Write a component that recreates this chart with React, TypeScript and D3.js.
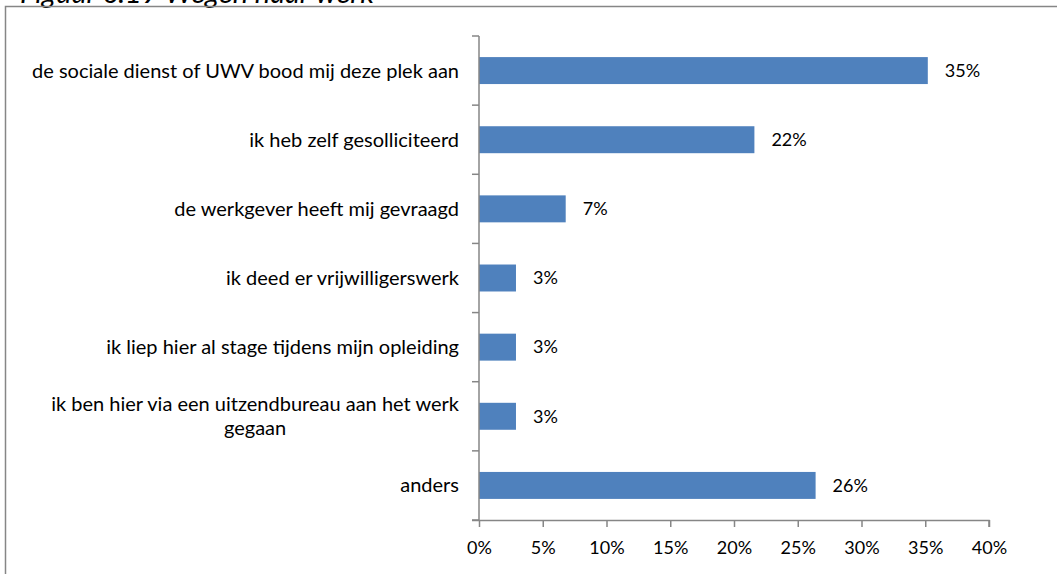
import { useEffect, useRef } from 'react';
import * as d3 from 'd3';

// Figuur 6.19 Wegen naar werk
const categories = [
    'de sociale dienst of UWV bood mij deze plek aan',
    'ik heb zelf gesolliciteerd',
    'de werkgever heeft mij gevraagd',
    'ik deed er vrijwilligerswerk',
    'ik liep hier al stage tijdens mijn opleiding',
    'ik ben hier via een uitzendbureau aan het werk|gegaan',
    'anders',
];
const values = [35.2, 21.6, 6.8, 2.9, 2.9, 2.9, 26.4];
const valueLabels = ['35%', '22%', '7%', '3%', '3%', '3%', '26%'];
const xTicks = [0, 5, 10, 15, 20, 25, 30, 35, 40];
const title = 'Figuur 6.19  Wegen naar werk';

const WIDTH = 1057;
const HEIGHT = 574;
const FONT = 'Lato, "Open Sans", sans-serif';
const AXIS = '#868686';
const BAR = '#4F81BD';

export default function App() {
    const svgRef = useRef<SVGSVGElement>(null);

    useEffect(() => {
        if (!svgRef.current) return;
        const svg = d3.select(svgRef.current);
        svg.selectAll('*').remove();

        const plot = { left: 479, right: 989, top: 36, bottom: 520 };

        const x = d3.scaleLinear().domain([0, 40]).range([plot.left, plot.right]);
        const y = d3.scaleBand<string>().domain(categories).range([plot.top, plot.bottom]).padding(0);
        const barH = y.bandwidth() * 0.39;

        // title (cut off at the top like the source)
        svg.append('text')
            .attr('x', 20)
            .attr('y', 3)
            .attr('font-family', FONT)
            .attr('font-style', 'italic')
            .attr('font-size', 29)
            .attr('fill', '#000')
            .text(title);

        // outer frame
        svg.append('rect')
            .attr('x', 5.5)
            .attr('y', 6.5)
            .attr('width', 1200)
            .attr('height', 800)
            .attr('fill', 'none')
            .attr('stroke', AXIS)
            .attr('stroke-width', 1.5);

        // bars
        svg.selectAll('.bar')
            .data(categories)
            .enter()
            .append('rect')
            .attr('class', 'bar')
            .attr('x', x(0))
            .attr('y', (d) => (y(d) as number) + (y.bandwidth() - barH) / 2)
            .attr('width', (d, i) => x(values[i]) - x(0))
            .attr('height', barH)
            .attr('fill', BAR);

        // value labels
        svg.selectAll('.val')
            .data(categories)
            .enter()
            .append('text')
            .attr('class', 'val')
            .attr('x', (d, i) => x(values[i]) + 17)
            .attr('y', (d) => (y(d) as number) + y.bandwidth() / 2)
            .attr('dy', '0.35em')
            .attr('font-family', FONT)
            .attr('font-size', 18)
            .attr('fill', '#000')
            .text((d, i) => valueLabels[i]);

        // y axis line + category ticks
        svg.append('line')
            .attr('x1', plot.left)
            .attr('x2', plot.left)
            .attr('y1', plot.top)
            .attr('y2', plot.bottom)
            .attr('stroke', AXIS)
            .attr('stroke-width', 1.5);
        const bounds = categories.map((c) => y(c) as number).concat([plot.bottom]);
        bounds.forEach((b) => {
            svg.append('line')
                .attr('x1', plot.left - 7)
                .attr('x2', plot.left)
                .attr('y1', b)
                .attr('y2', b)
                .attr('stroke', AXIS)
                .attr('stroke-width', 1.5);
        });

        // category labels
        categories.forEach((c) => {
            const lines = c.split('|');
            const cy = (y(c) as number) + y.bandwidth() / 2;
            const lh = 24;
            const t0 = cy - ((lines.length - 1) * lh) / 2;
            const first = svg.append('text')
                .attr('x', 459)
                .attr('y', t0)
                .attr('dy', '0.35em')
                .attr('text-anchor', 'end')
                .attr('font-family', FONT)
                .attr('font-size', 20)
                .attr('fill', '#000')
                .text(lines[0]);
            if (lines.length > 1) {
                const w = (first.node() as SVGTextElement).getComputedTextLength();
                lines.slice(1).forEach((l, k) => {
                    svg.append('text')
                        .attr('x', 459 - w / 2)
                        .attr('y', t0 + (k + 1) * lh)
                        .attr('dy', '0.35em')
                        .attr('text-anchor', 'middle')
                        .attr('font-family', FONT)
                        .attr('font-size', 20)
                        .attr('fill', '#000')
                        .text(l);
                });
            }
        });

        // x axis
        const xAxis = d3
            .axisBottom(x)
            .tickValues(xTicks)
            .tickSize(7)
            .tickPadding(14)
            .tickFormat((d) => `${d}%`);
        const gx = svg.append('g').attr('transform', `translate(0,${plot.bottom})`).call(xAxis);
        gx.select('.domain').attr('stroke', AXIS).attr('stroke-width', 1.5).attr('d', `M${plot.left - 7},0.5H${plot.right}V7`);
        gx.selectAll('.tick line').attr('stroke', AXIS).attr('stroke-width', 1.5);
        gx.selectAll('.tick text')
            .attr('font-family', FONT)
            .attr('font-size', 18)
            .attr('fill', '#000');
    }, []);

    return (
        <div style={{ position: 'absolute', left: 0, top: 0 }}>
            <svg ref={svgRef} width={WIDTH} height={HEIGHT} style={{ display: 'block', background: '#fff' }} />
        </div>
    );
}
